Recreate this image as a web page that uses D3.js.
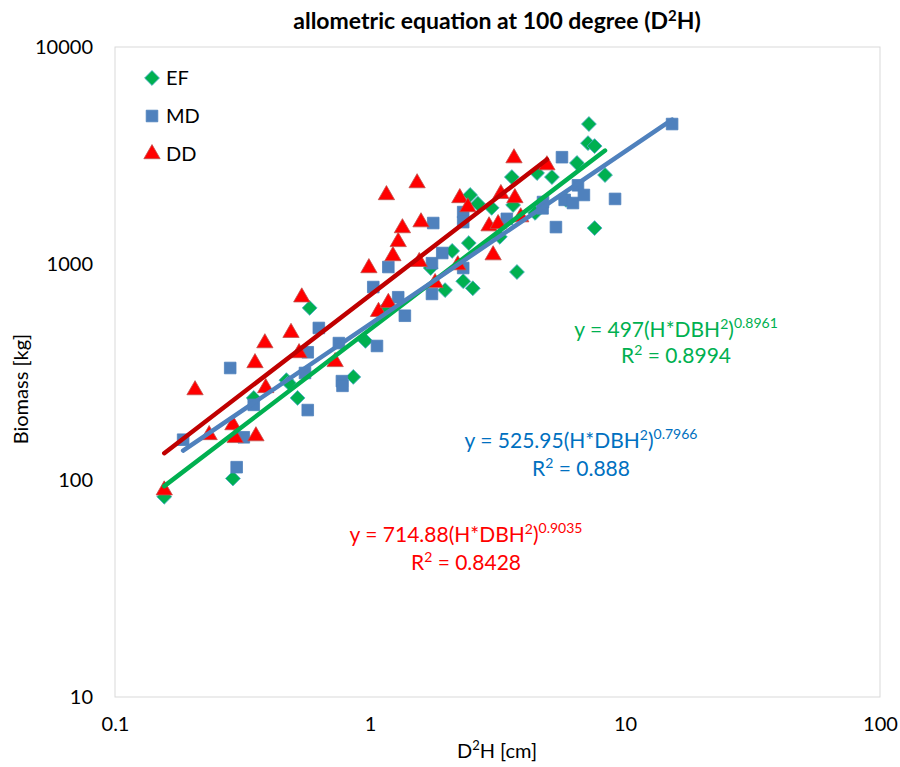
<!DOCTYPE html>
<html>
<head>
<meta charset="utf-8">
<script src="https://cdn.jsdelivr.net/npm/d3@7"></script>
<style>
  body { margin: 0; background: #fff; }
  text { font-family: Lato, "Open Sans", sans-serif; }
</style>
</head>
<body>
<div id="vis"></div>
<script>
// EF series (x = D2H, y = biomass)
const EF_X = [0.156, 0.29, 0.35, 0.47, 0.48, 0.52, 0.58, 0.86, 0.96, 1.16, 1.73, 1.97, 2.1, 2.32, 2.53, 2.44, 2.47, 2.65, 3.0, 3.23, 3.6, 3.64, 3.77, 4.44, 4.52, 5.17, 5.87, 6.48, 7.16, 7.22, 7.6, 7.6, 8.35];
const EF_Y = [84, 102, 240, 290, 282, 240, 625, 300, 440, 630, 955, 755, 1145, 830, 770, 1245, 2075, 1890, 1810, 1330, 2510, 1865, 915, 1715, 2620, 2510, 1970, 2915, 3600, 4410, 3490, 1460, 2565];

// MD series
const MD_X = [0.185, 0.283, 0.30, 0.32, 0.35, 0.556, 0.57, 0.57, 0.63, 0.755, 0.776, 0.78, 1.03, 1.065, 1.18, 1.29, 1.37, 1.75, 1.75, 1.77, 1.92, 2.32, 2.32, 2.32, 3.44, 4.75, 4.77, 5.36, 5.66, 5.8, 6.25, 6.54, 6.9, 9.14, 15.3];
const MD_Y = [154, 330, 115, 158, 223, 313, 390, 211, 505, 430, 287, 273, 780, 417, 965, 700, 575, 1005, 725, 1540, 1120, 1730, 1555, 955, 1610, 1800, 1925, 1475, 3100, 1970, 1905, 2300, 2075, 1990, 4410];

// DD series
const DD_X = [0.156, 0.206, 0.234, 0.29, 0.296, 0.354, 0.357, 0.387, 0.39, 0.49, 0.527, 0.54, 0.73, 0.99, 1.08, 1.16, 1.18, 1.23, 1.29, 1.34, 1.53, 1.56, 1.585, 1.8, 2.21, 2.25, 2.42, 2.93, 3.04, 3.18, 3.26, 3.67, 3.7, 3.9, 4.94];
const DD_Y = [90, 261, 162, 180, 157, 348, 160, 430, 267, 480, 387, 700, 352, 955, 600, 2075, 660, 1085, 1260, 1460, 2355, 1020, 1555, 815, 985, 2010, 1825, 1490, 1095, 1525, 2100, 3070, 2010, 1640, 2850];

// power trend lines y = a * x^b
const SERIES = ["EF", "MD", "DD"];
const FIT_A = [497, 525.95, 714.88];
const FIT_B = [0.8961, 0.7966, 0.9035];
const FIT_R2 = ["0.8994", "0.888", "0.8428"];

const X_TICKS = [0.1, 1, 10, 100];
const Y_TICKS = [10, 100, 1000, 10000];

const FRAME_WIDTH = 900;
const FRAME_HEIGHT = 767;
const MARGINS = {left: 115, right: 20, top: 47, bottom: 70};
const VIS_WIDTH = FRAME_WIDTH - MARGINS.left - MARGINS.right;
const VIS_HEIGHT = FRAME_HEIGHT - MARGINS.top - MARGINS.bottom;

const MARK_FILL = ["#00b050", "#4f81bd", "#ff0000"];
const MARK_STROKE = ["#4bacc6", "#4f81bd", "#c0504d"];
const LINE_COLOR = ["#00b050", "#4f81bd", "#c00000"];
const EQ_COLOR = ["#00b050", "#0070c0", "#ff0000"];

const FRAME = d3.select("#vis")
                .append("svg")
                .attr("width", FRAME_WIDTH)
                .attr("height", FRAME_HEIGHT);

const X_SCALE = d3.scaleLog().domain([0.1, 100]).range([0, VIS_WIDTH]);
const Y_SCALE = d3.scaleLog().domain([10, 10000]).range([VIS_HEIGHT, 0]);

const G = FRAME.append("g")
               .attr("transform", "translate(" + MARGINS.left + "," + MARGINS.top + ")");

// plot border
G.append("rect")
 .attr("width", VIS_WIDTH)
 .attr("height", VIS_HEIGHT)
 .attr("fill", "none")
 .attr("stroke", "#d9d9d9");

// axes (labels only)
const xAxis = G.append("g")
               .attr("transform", "translate(0," + VIS_HEIGHT + ")")
               .call(d3.axisBottom(X_SCALE).tickValues(X_TICKS).tickFormat(d3.format("")).tickSize(0).tickPadding(26));
const yAxis = G.append("g")
               .call(d3.axisLeft(Y_SCALE).tickValues(Y_TICKS).tickFormat(d3.format("")).tickSize(0).tickPadding(22));
[xAxis, yAxis].forEach((ax) => {
  ax.select(".domain").remove();
  ax.selectAll("text").attr("font-size", "20px").attr("fill", "#000")
    .attr("font-family", "Lato, 'Open Sans', sans-serif");
});
xAxis.selectAll("text").attr("dy", "0.4em");

const DATA = [
  EF_X.map((x, i) => ({x: x, y: EF_Y[i]})),
  MD_X.map((x, i) => ({x: x, y: MD_Y[i]})),
  DD_X.map((x, i) => ({x: x, y: DD_Y[i]}))
];

const SYMBOLS = [
  d3.symbol().type(d3.symbolSquare).size(110),
  d3.symbol().type(d3.symbolSquare).size(135),
  d3.symbol().type(d3.symbolTriangle).size(115)
];

// markers
DATA.forEach((pts, s) => {
  G.append("g").selectAll("path")
   .data(pts)
   .enter()
   .append("path")
   .attr("d", SYMBOLS[s])
   .attr("transform", (d) => "translate(" + X_SCALE(d.x) + "," + Y_SCALE(d.y) + ")" + (s === 0 ? " rotate(45)" : ""))
   .attr("fill", MARK_FILL[s])
   .attr("stroke", MARK_STROKE[s])
   .attr("stroke-width", 0.8);
});

// trend lines
DATA.forEach((pts, s) => {
  const ext = d3.extent(pts, (d) => d.x);
  const ends = ext.map((x) => ({x: x, y: FIT_A[s] * Math.pow(x, FIT_B[s])}));
  G.append("line")
   .attr("x1", X_SCALE(ends[0].x)).attr("y1", Y_SCALE(ends[0].y))
   .attr("x2", X_SCALE(ends[1].x)).attr("y2", Y_SCALE(ends[1].y))
   .attr("stroke", LINE_COLOR[s])
   .attr("stroke-width", 4.5)
   .attr("stroke-linecap", "round");
});

// equations
const EQ_POS = [[676, 337, 363], [581, 448, 476], [466, 542, 570]];
SERIES.forEach((name, s) => {
  const t = FRAME.append("text")
                 .attr("x", EQ_POS[s][0]).attr("y", EQ_POS[s][1])
                 .attr("text-anchor", "middle")
                 .attr("font-size", "21px")
                 .attr("fill", EQ_COLOR[s]);
  t.append("tspan").text("y = " + FIT_A[s] + "(H*DBH");
  t.append("tspan").attr("font-size", "14px").attr("dy", "-8").text("2");
  t.append("tspan").attr("dy", "8").text(")");
  t.append("tspan").attr("font-size", "14px").attr("dy", "-9").text(FIT_B[s]);
  const r = FRAME.append("text")
                 .attr("x", EQ_POS[s][0]).attr("y", EQ_POS[s][2])
                 .attr("text-anchor", "middle")
                 .attr("font-size", "21px")
                 .attr("fill", EQ_COLOR[s]);
  r.append("tspan").text("R");
  r.append("tspan").attr("font-size", "14px").attr("dy", "-8").text("2");
  r.append("tspan").attr("dy", "8").text(" = " + FIT_R2[s]);
});

// legend
const LEG = FRAME.append("g").attr("transform", "translate(152,78)");
SERIES.forEach((name, s) => {
  LEG.append("path")
     .attr("d", SYMBOLS[s])
     .attr("transform", "translate(0," + (s * 38) + ")" + (s === 0 ? " rotate(45)" : ""))
     .attr("fill", MARK_FILL[s])
     .attr("stroke", MARK_STROKE[s])
     .attr("stroke-width", 0.8);
  LEG.append("text")
     .attr("x", 14).attr("y", s * 38 + 7)
     .attr("font-size", "20px")
     .attr("fill", "#000")
     .text(name);
});

// title
const title = FRAME.append("text")
                   .attr("x", 497).attr("y", 29)
                   .attr("text-anchor", "middle")
                   .attr("font-size", "23px")
                   .attr("font-weight", "bold");
title.append("tspan").text("allometric equation at 100 degree (D");
title.append("tspan").attr("font-size", "15px").attr("dy", "-8").text("2");
title.append("tspan").attr("dy", "8").text("H)");

// x axis title
const xt = FRAME.append("text")
                .attr("x", 497).attr("y", 758)
                .attr("text-anchor", "middle")
                .attr("font-size", "20px");
xt.append("tspan").text("D");
xt.append("tspan").attr("font-size", "13px").attr("dy", "-8").text("2");
xt.append("tspan").attr("dy", "8").text("H [cm]");

// y axis title
FRAME.append("text")
     .attr("transform", "translate(28,389) rotate(-90)")
     .attr("text-anchor", "middle")
     .attr("font-size", "20px")
     .text("Biomass [kg]");
</script>
</body>
</html>
